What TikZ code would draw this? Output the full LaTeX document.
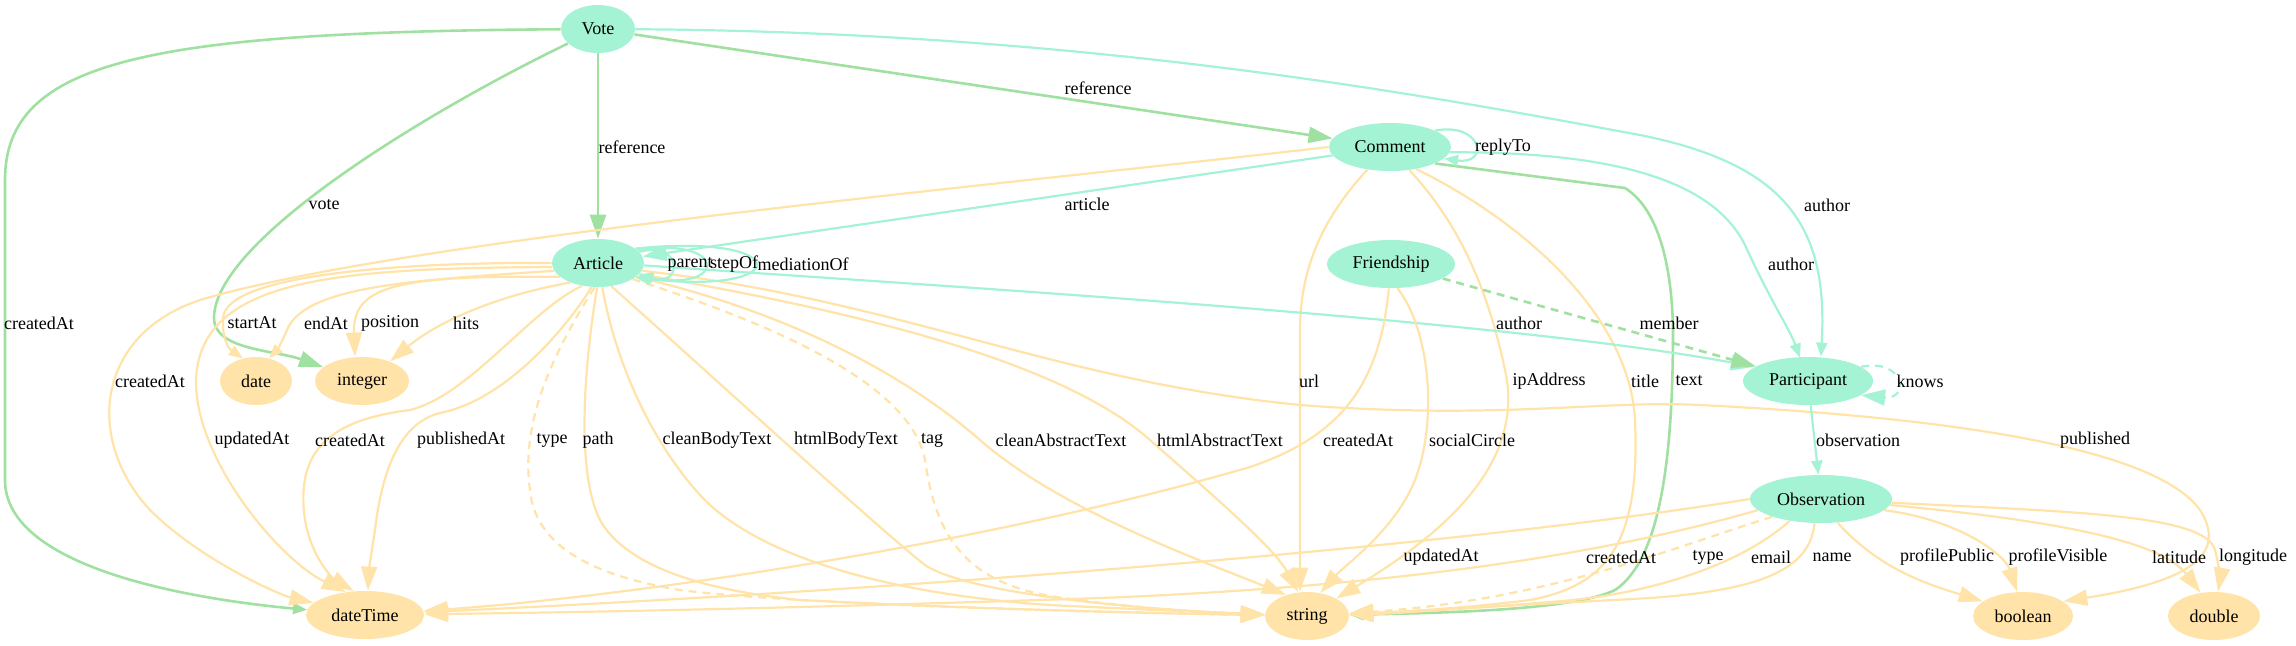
\documentclass[tikz,border=0pt]{standalone}
\usepackage{fontspec}
\setmainfont{Liberation Serif}
\usetikzlibrary{arrows.meta,shapes.geometric,calc}
\definecolor{mintN}{HTML}{A4F3D4}
\definecolor{orN}{HTML}{FFE3A8}
\definecolor{grE}{HTML}{A0E0A0}
\pgfdeclarelayer{edges}
\pgfsetlayers{edges,main}
\tikzset{
  cls/.style={ellipse, fill=mintN, inner sep=0pt, minimum height=24pt, font=\fontsize{9}{10}\selectfont},
  dt/.style={ellipse, fill=orN, inner sep=0pt, minimum height=24pt, font=\fontsize{9}{10}\selectfont},
  og/.style={draw=orN, line width=1.1pt},
  mn/.style={draw=mintN, line width=1.1pt},
  gr/.style={draw=grE, line width=1.3pt},
  A/.style={-{Triangle[length=12pt,width=8pt]}},
  Am/.style={-{Triangle[length=7pt,width=5.5pt]}},
  dsh/.style={dash pattern=on 4pt off 3pt},
  lbl/.style={inner sep=0pt, font=\fontsize{9}{10}\selectfont}
}
\begin{document}
\begin{tikzpicture}[x=0.5pt,y=-0.5pt]
\useasboundingbox (0,0) rectangle (2296,645);
% nodes
\node[cls, minimum width=37pt] (Vote) at (598,29) {Vote};
\node[cls, minimum width=61pt] (Comment) at (1390,147) {Comment};
\node[cls, minimum width=46pt] (Article) at (598,263) {Article};
\node[cls, minimum width=64pt] (Friendship) at (1391,264) {Friendship};
\node[cls, minimum width=65pt] (Participant) at (1808,381) {Participant};
\node[cls, minimum width=71pt] (Observation) at (1821,499) {Observation};
\node[dt, minimum width=36pt] (date) at (256,381) {date};
\node[dt, minimum width=47pt] (integer) at (362,381) {integer};
\node[dt, minimum width=59pt] (dateTime) at (365,615) {dateTime};
\node[dt, minimum width=42pt] (string) at (1307,616) {string};
\node[dt, minimum width=50pt] (boolean) at (2023,616) {boolean};
\node[dt, minimum width=46pt] (double) at (2214,616) {double};

\begin{pgfonlayer}{edges}
% green text edge first so that the orange tips cover its end
\draw[gr,Am] (Comment.-20) -- (1625,188) .. controls (1660,210) and (1672,270) .. (1673,330) .. controls (1673,460) and (1660,560) .. (1615,590) .. controls (1570,612) and (1420,613) .. (string);
% Vote
\draw[gr,Am] (Vote) .. controls (150,32) and (5,60) .. (5,180) -- (5,480) .. controls (5,570) and (200,600) .. (dateTime);
\draw[gr,A] (Vote) .. controls (430,110) and (214,240) .. (214,318) .. controls (214,350) and (275,350) .. (integer);
\draw[gr,A] (Vote) -- (Article);
\draw[gr,A] (Vote) -- (Comment);
\draw[mn,Am] (Vote) .. controls (1100,32) and (1450,100) .. (1640,135) .. controls (1790,165) and (1828,230) .. ($(Participant.north)+(13,0)$);
% Comment
\draw[mn,Am] (Comment.20) .. controls (1482,122) and (1490,165) .. (Comment.-12);
\draw[mn,A] (Comment) -- (Article);
\draw[mn,Am] (Comment.-5) .. controls (1600,152) and (1710,175) .. (1745,245) .. controls (1770,300) and (1790,330) .. ($(Participant.north)+(-8,1)$);
\draw[og,A] (Comment.225) .. controls (1330,210) and (1300,260) .. (1300,330) -- ($(string.north)+(-7,0)$);
\draw[og,A] (Comment.-50) .. controls (1465,230) and (1490,300) .. (1505,370) .. controls (1525,460) and (1450,530) .. (string);
\draw[og,A] (Comment.-40) .. controls (1530,225) and (1630,320) .. (1635,420) .. controls (1640,540) and (1610,585) .. (1530,600) .. controls (1450,610) and (1390,612) .. (string);
\draw[og,A] (Comment.west) .. controls (1000,185) and (400,240) .. (200,300) .. controls (95,335) and (85,440) .. (150,510) .. controls (200,560) and (280,595) .. (dateTime);
% Article
\draw[og,Am] (Article.west) .. controls (420,262) and (226,272) .. (223,318) .. controls (222,338) and (228,348) .. (date.120);
\draw[og,Am] (Article.190) .. controls (420,280) and (305,285) .. (287,330) .. controls (282,342) and (277,350) .. (date.60);
\draw[og,A] (Article.200) .. controls (400,275) and (352,285) .. ($(integer.north)+(-7,0)$);
\draw[og,A] (Article.215) .. controls (500,295) and (440,320) .. (integer.35);
\draw[og,A] (Article.185) .. controls (330,268) and (200,280) .. (196,380) .. controls (195,460) and (280,560) .. (dateTime.130);
\draw[og,A] (Article.235) .. controls (530,310) and (470,395) .. (410,410) .. controls (330,420) and (295,450) .. (305,520) .. controls (312,560) and (335,580) .. (dateTime.115);
\draw[og,A] (Article.255) .. controls (565,330) and (505,400) .. (440,413) .. controls (400,423) and (382,470) .. (375,530) .. controls (371,555) and (369,570) .. ($(dateTime.north)+(3,0)$);
\draw[og,dsh,A] (Article.262) .. controls (555,350) and (520,420) .. (530,490) .. controls (535,545) and (590,575) .. (680,590) .. controls (800,605) and (1100,612) .. (string);
\draw[og,A] (Article.268) .. controls (585,360) and (575,470) .. (600,520) .. controls (625,565) and (700,590) .. (800,600) .. controls (1000,610) and (1150,613) .. (string);
\draw[og,A] (Article.280) .. controls (615,360) and (650,440) .. (700,495) .. controls (760,560) and (900,595) .. (1050,605) .. controls (1150,610) and (1230,613) .. (string);
\draw[og,A] (Article.300) .. controls (700,365) and (880,530) .. (925,565) .. controls (970,595) and (1150,610) .. (string);
\draw[og,dsh,A] (Article.-25) .. controls (760,320) and (910,380) .. (925,460) .. controls (935,530) and (960,580) .. (1050,596) .. controls (1130,608) and (1200,612) .. (string);
\draw[og,A] (Article.-20) .. controls (780,310) and (900,370) .. (980,440) .. controls (1060,510) and (1200,560) .. (string.135);
\draw[og,A] (Article.-15) .. controls (850,310) and (1060,360) .. (1150,440) .. controls (1230,510) and (1275,550) .. (string.110);
\draw[og,A] (Article.-10) .. controls (900,300) and (1050,380) .. (1300,405) .. controls (1500,420) and (1600,400) .. (1700,405) .. controls (1900,415) and (2150,440) .. (2200,510) .. controls (2225,550) and (2200,580) .. (boolean.20);
\draw[mn,A] (Article.-3) .. controls (1000,290) and (1500,320) .. (Participant.165);
\draw[mn,Am] (Article.15) .. controls (683,240) and (683,288) .. (Article.-15);
\draw[mn,Am] (Article.18) .. controls (728,236) and (728,292) .. (Article.-18);
\draw[mn,Am] (Article.21) .. controls (795,232) and (795,296) .. (Article.-21);
% Friendship
\draw[gr,dsh,A] (Friendship) -- (Participant);
\draw[og,A] (Friendship.265) .. controls (1380,380) and (1345,435) .. (1250,467) .. controls (1000,540) and (650,595) .. (dateTime);
\draw[og,A] (Friendship.285) .. controls (1430,330) and (1438,420) .. (1415,480) .. controls (1395,530) and (1345,565) .. (string.60);
% Participant
\draw[mn,dsh,A] (Participant.15) .. controls (1905,358) and (1910,400) .. (Participant.-15);
\draw[mn,Am] (Participant) -- (Observation);
% Observation
\draw[og,A] (Observation.west) .. controls (1500,540) and (1000,585) .. (dateTime);
\draw[og,A] (Observation.190) .. controls (1550,570) and (1300,590) .. (1100,598) .. controls (800,608) and (600,612) .. (dateTime);
\draw[og,dsh,A] (Observation.200) .. controls (1680,545) and (1550,600) .. (string);
\draw[og,A] (Observation.215) .. controls (1740,565) and (1650,595) .. (1550,602) .. controls (1450,610) and (1380,614) .. (string);
\draw[og,A] (Observation.255) .. controls (1810,570) and (1760,590) .. (1650,598) .. controls (1500,606) and (1400,612) .. (string);
\draw[og,A] (Observation.-55) .. controls (1880,570) and (1930,585) .. (boolean.160);
\draw[og,A] (Observation.-10) .. controls (1960,520) and (2005,555) .. ($(boolean.north)+(-6,0)$);
\draw[og,A] (Observation.-5) .. controls (2050,520) and (2160,540) .. (double.120);
\draw[og,A] (Observation.-3) .. controls (2080,512) and (2205,515) .. (2215,550) .. controls (2220,570) and (2220,580) .. ($(double.north)+(4,0)$);
\end{pgfonlayer}

% labels
\node[lbl] (l1) at (39,323) {createdAt};
\node[lbl] (l2) at (324,205) {vote};
\node[lbl] (l3) at (632,147) {reference};
\node[lbl] (l4) at (1098,88) {reference};
\node[lbl] (l5) at (1827,205) {author};
\node[lbl] (l6) at (1503,147) {replyTo};
\node[lbl] (l7) at (1087,204) {article};
\node[lbl] (l8) at (1791,264) {author};
\node[lbl] (l9) at (1689,381) {text};
\node[lbl] (l10) at (1309,381) {url};
\node[lbl] (l11) at (1549,381) {ipAddress};
\node[lbl] (l12) at (1645,381) {title};
\node[lbl] (l13) at (150,381) {createdAt};
\node[lbl] (l14) at (252,323) {startAt};
\node[lbl] (l15) at (326,323) {endAt};
\node[lbl] (l16) at (390,323) {position};
\node[lbl] (l17) at (466,323) {hits};
\node[lbl] (l18) at (252,440) {updatedAt};
\node[lbl] (l19) at (350,440) {createdAt};
\node[lbl] (l20) at (461,440) {publishedAt};
\node[lbl] (l21) at (552,440) {type};
\node[lbl] (l22) at (598,440) {path};
\node[lbl] (l23) at (717,440) {cleanBodyText};
\node[lbl] (l24) at (846,440) {htmlBodyText};
\node[lbl] (l25) at (932,440) {tag};
\node[lbl] (l26) at (1061,440) {cleanAbstractText};
\node[lbl] (l27) at (1220,440) {htmlAbstractText};
\node[lbl] (l28) at (2095,440) {published};
\node[lbl] (l29) at (1519,323) {author};
\node[lbl] (l30) at (690,264) {parent};
\node[lbl] (l31) at (734,264) {stepOf};
\node[lbl] (l32) at (803,264) {mediationOf};
\node[lbl] (l33) at (1669,323) {member};
\node[lbl] (l34) at (1358,440) {createdAt};
\node[lbl] (l35) at (1472,440) {socialCircle};
\node[lbl] (l36) at (1920,381) {knows};
\node[lbl] (l37) at (1858,440) {observation};
\node[lbl] (l38) at (1441,557) {updatedAt};
\node[lbl] (l39) at (1621,557) {createdAt};
\node[lbl] (l40) at (1708,557) {type};
\node[lbl] (l41) at (1771,557) {email};
\node[lbl] (l42) at (1832,557) {name};
\node[lbl] (l43) at (1947,557) {profilePublic};
\node[lbl] (l44) at (2058,557) {profileVisible};
\node[lbl] (l45) at (2179,557) {latitude};
\node[lbl] (l46) at (2253,557) {longitude};
\end{tikzpicture}
\end{document}
